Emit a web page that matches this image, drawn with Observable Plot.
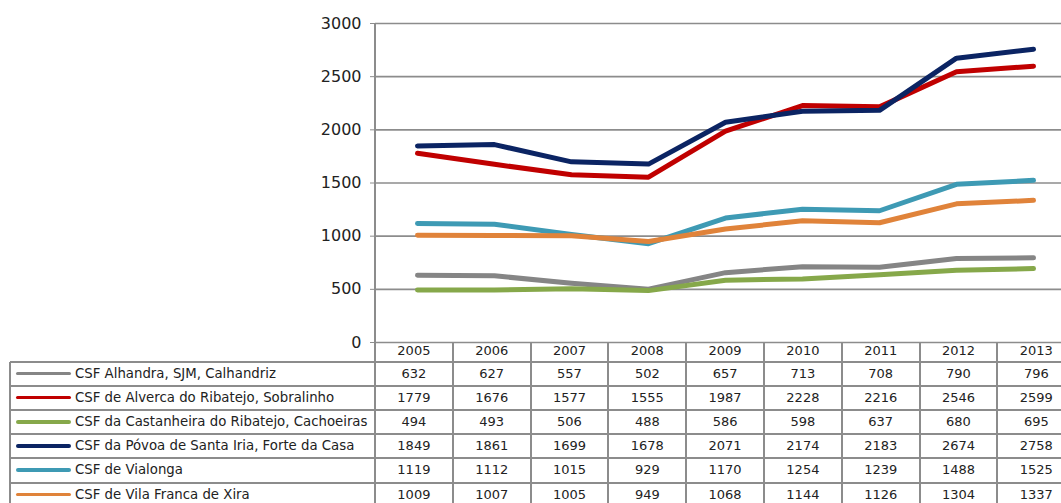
<!DOCTYPE html>
<html>
<head>
<meta charset="utf-8">
<script src="https://cdn.jsdelivr.net/npm/d3@7"></script>
<script src="https://cdn.jsdelivr.net/npm/@observablehq/plot@0.6"></script>
<style>
  html, body { margin: 0; padding: 0; background: #fff; overflow: hidden; }
  #wrap { position: relative; width: 1061px; height: 503px; overflow: hidden; font-family: "DejaVu Sans", sans-serif; }
  #wrap svg { display: block; position: absolute; left: 0; top: 0; }
  .hl, .vl { position: absolute; background: #8c8c8c; }
  .cell { position: absolute; text-align: center; font-size: 13px; color: #222; white-space: nowrap; line-height: 24px; }
  .lab { position: absolute; font-size: 13.3px; color: #222; white-space: nowrap; line-height: 24px; }
  .sw { position: absolute; height: 3.5px; border-radius: 2px; }
</style>
</head>
<body>
<div id="wrap"></div>
<script>
const years = [2005, 2006, 2007, 2008, 2009, 2010, 2011, 2012, 2013];
const seriesNames = [
  "CSF Alhandra, SJM, Calhandriz",
  "CSF de Alverca do Ribatejo, Sobralinho",
  "CSF da Castanheira do Ribatejo, Cachoeiras",
  "CSF da Póvoa de Santa Iria, Forte da Casa",
  "CSF de Vialonga",
  "CSF de Vila Franca de Xira"
];
const alhandra    = [632, 627, 557, 502, 657, 713, 708, 790, 796];
const alverca     = [1779, 1676, 1577, 1555, 1987, 2228, 2216, 2546, 2599];
const castanheira = [494, 493, 506, 488, 586, 598, 637, 680, 695];
const povoa       = [1849, 1861, 1699, 1678, 2071, 2174, 2183, 2674, 2758];
const vialonga    = [1119, 1112, 1015, 929, 1170, 1254, 1239, 1488, 1525];
const vilaFranca  = [1009, 1007, 1005, 949, 1068, 1144, 1126, 1304, 1337];
const seriesValues = [alhandra, alverca, castanheira, povoa, vialonga, vilaFranca];
const seriesColors = ["#858585", "#c00000", "#86a84a", "#0b2463", "#3e9ab4", "#e0833a"];
const yTicks = [0, 500, 1000, 1500, 2000, 2500, 3000];

const data = [];
seriesNames.forEach((s, i) => years.forEach((y, j) => data.push({series: s, year: y, value: seriesValues[i][j]})));

// layout constants
const plotLeft = 375, colW = 77.8, plotTop = 23, plotBottom = 342;
const tableLeft = 10, headerBottom = 361.5, rowH = 24.2;

const chart = Plot.plot({
  width: 1061,
  height: plotBottom + 20,
  marginTop: plotTop,
  marginBottom: 20,
  marginLeft: plotLeft,
  marginRight: 0,
  style: {fontFamily: "DejaVu Sans, sans-serif", background: "transparent"},
  x: {type: "point", domain: years, range: [plotLeft, plotLeft + colW * years.length], padding: 0.5, axis: null},
  y: {domain: [0, 3000], axis: null},
  color: {domain: seriesNames, range: seriesColors},
  marks: [
    Plot.ruleY(yTicks, {stroke: "#8c8c8c", strokeWidth: 1.6}),
    Plot.axisY(yTicks, {tickSize: 5, tickPadding: 9, fontSize: 16, stroke: "#8c8c8c", fill: "#222", label: null, tickFormat: d => String(d)}),
    Plot.line(data, {x: "year", y: "value", z: "series", stroke: "series", strokeWidth: 5, strokeLinecap: "round", strokeLinejoin: "round"})
  ]
});

const wrap = document.getElementById("wrap");
wrap.appendChild(chart);

function addDiv(cls, styles, text) {
  const d = document.createElement("div");
  d.className = cls;
  Object.assign(d.style, styles);
  if (text !== undefined) d.textContent = text;
  wrap.appendChild(d);
  return d;
}

// vertical axis line (continues into table)
addDiv("vl", {left: (plotLeft - 1) + "px", top: plotTop + "px", width: "2px", height: (503 - plotTop) + "px"});
// column separators
years.forEach((y, j) => {
  const x = plotLeft + colW * (j + 1);
  addDiv("vl", {left: (x - 1) + "px", top: plotBottom + "px", width: "2px", height: (503 - plotBottom) + "px"});
});
// table left border
addDiv("vl", {left: (tableLeft - 1) + "px", top: headerBottom + "px", width: "2px", height: (503 - headerBottom) + "px"});
// horizontal row lines
for (let r = 0; r < seriesNames.length; r++) {
  const y = headerBottom + rowH * r;
  addDiv("hl", {left: tableLeft + "px", top: (y - 1) + "px", width: (1061 - tableLeft) + "px", height: "2px"});
}
// header (year labels)
years.forEach((y, j) => {
  addDiv("cell", {left: (plotLeft + colW * j) + "px", top: (plotBottom - 1) + "px", width: colW + "px", height: "20px", lineHeight: "20px"}, String(y));
});
// rows
seriesNames.forEach((s, i) => {
  const top = headerBottom + rowH * i;
  addDiv("sw", {left: "16px", top: (top + rowH / 2 - 2) + "px", width: "55px", background: seriesColors[i]});
  addDiv("lab", {left: "75px", top: top + "px", height: rowH + "px", lineHeight: rowH + "px"}, s);
  seriesValues[i].forEach((v, j) => {
    addDiv("cell", {left: (plotLeft + colW * j) + "px", top: top + "px", width: colW + "px", height: rowH + "px", lineHeight: rowH + "px"}, String(v));
  });
});
</script>
</body>
</html>
